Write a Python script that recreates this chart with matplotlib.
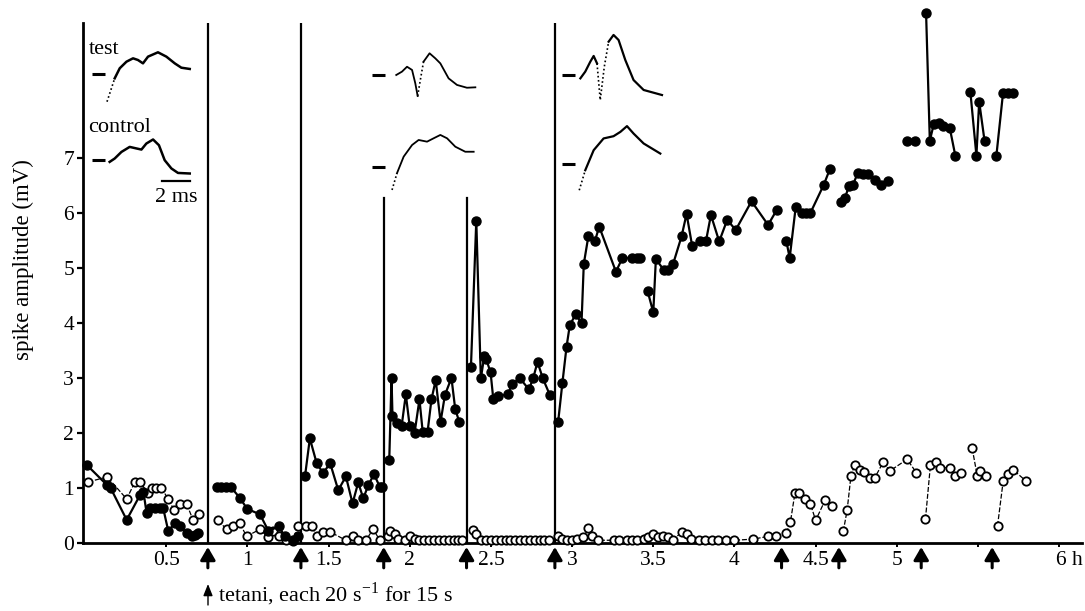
import numpy as np
import matplotlib.pyplot as plt
from matplotlib.transforms import ScaledTranslation

plt.rcParams['font.family'] = ['Liberation Serif', 'DejaVu Serif']
plt.rcParams['mathtext.fontset'] = 'custom'
plt.rcParams['mathtext.rm'] = 'Liberation Serif'

nan = np.nan

# tiempo (h) y amplitud (mV) de la espiga; nan separa los tramos
test_t = [0.014, 0.137, 0.158, 0.257, 0.339, 0.36, 0.38, 0.40, 0.43, 0.462, 0.482, 0.513, 0.554, 0.585, 0.626, 0.657, 0.677, 0.698, nan,
          0.815, 0.84, 0.87, 0.90, 0.954, 0.999, 1.078, 1.13, 1.195, 1.23, 1.28, 1.31, nan,
          1.355, 1.385, 1.427, 1.467, 1.51, 1.56, 1.607, 1.648, 1.683, 1.714, 1.745, 1.78, 1.816, 1.83, nan,
          1.874, 1.888, 1.894, 1.92, 1.95, 1.976, 2.0, 2.03, 2.06, 2.08, 2.11, 2.134, 2.16, 2.19, 2.217, 2.257, 2.28, 2.305, nan,
          2.377, 2.41, 2.438, 2.459, 2.47, 2.498, 2.515, 2.545, 2.607, 2.627, 2.68, 2.734, 2.76, 2.787, 2.82, 2.863, nan,
          2.914, 2.94, 2.966, 2.986, 3.023, 3.058, 3.072, 3.1, 3.14, 3.167, 3.27, 3.31, 3.366, 3.397, 3.42, nan,
          3.465, 3.5, 3.516, 3.565, 3.59, 3.622, 3.674, 3.705, 3.74, 3.787, 3.824, 3.855, 3.906, 3.955, 4.008, 4.105, 4.207, 4.26, nan,
          4.32, 4.34, 4.377, 4.413, 4.44, 4.468, 4.55, 4.587, nan,
          4.653, 4.68, 4.706, 4.73, 4.76, 4.79, 4.82, 4.865, 4.905, 4.946, nan,
          5.06, 5.11, nan,
          5.18, 5.203, 5.228, 5.26, 5.285, 5.326, 5.36, nan,
          5.453, 5.49, 5.507, 5.54, nan,
          5.613, 5.654, 5.685, 5.717]
test_v = [1.41, 1.05, 1.0, 0.42, 0.87, 0.93, 0.54, 0.63, 0.63, 0.63, 0.63, 0.22, 0.36, 0.30, 0.18, 0.12, 0.15, 0.18, nan,
          1.01, 1.01, 1.01, 1.01, 0.82, 0.62, 0.52, 0.22, 0.30, 0.12, 0.05, 0.12, nan,
          1.21, 1.90, 1.45, 1.27, 1.45, 0.96, 1.21, 0.72, 1.10, 0.81, 1.05, 1.25, 1.02, 1.02, nan,
          1.51, 3.0, 2.30, 2.18, 2.12, 2.70, 2.12, 2.0, 2.61, 2.02, 2.02, 2.61, 2.96, 2.2, 2.69, 3.0, 2.44, 2.2, nan,
          3.19, 5.86, 2.99, 3.39, 3.35, 3.10, 2.61, 2.67, 2.70, 2.89, 2.99, 2.79, 2.99, 3.29, 2.99, 2.69, nan,
          2.2, 2.9, 3.57, 3.96, 4.16, 3.99, 5.07, 5.57, 5.48, 5.75, 4.93, 5.18, 5.18, 5.18, 5.18, nan,
          4.58, 4.19, 5.16, 4.96, 4.96, 5.07, 5.57, 5.98, 5.39, 5.48, 5.48, 5.96, 5.48, 5.87, 5.69, 6.21, 5.78, 6.05, nan,
          5.48, 5.18, 6.10, 6.0, 6.0, 6.0, 6.51, 6.79, nan,
          6.19, 6.27, 6.49, 6.51, 6.73, 6.71, 6.71, 6.59, 6.51, 6.57, nan,
          7.31, 7.31, nan,
          9.63, 7.31, 7.62, 7.63, 7.58, 7.54, 7.04, nan,
          8.19, 7.04, 8.02, 7.31, nan,
          7.04, 8.18, 8.18, 8.18]

control_t = [0.02, 0.137, 0.257, 0.308, 0.339, 0.39, 0.41, 0.44, 0.47, 0.513, 0.548, 0.585, 0.626, 0.667, 0.704, nan,
             0.82, 0.872, 0.913, 0.954, 0.995, 1.078, 1.13, 1.16, 1.195, 1.24, 1.28, 1.31, nan,
             1.36, 1.40, 1.427, 1.467, 1.51, 1.607, 1.648, 1.683, 1.73, 1.775, 1.816, nan,
             1.865, 1.878, 1.91, 1.93, 1.97, 2.0, 2.03, 2.06, 2.09, 2.12, 2.15, 2.18, 2.21, 2.24, 2.27, 2.30, 2.32, nan,
             2.39, 2.41, 2.44, 2.47, 2.50, 2.53, 2.56, 2.59, 2.62, 2.65, 2.68, 2.71, 2.74, 2.77, 2.80, 2.83, 2.86, nan,
             2.914, 2.94, 2.97, 3.0, 3.03, 3.07, 3.10, 3.125, 3.16, 3.26, 3.29, 3.34, 3.37, 3.40, 3.44, 3.47, 3.5, 3.53,
             3.56, 3.59, 3.62, 3.675, 3.705, 3.73, 3.78, 3.82, 3.86, 3.90, 3.95, 4.0, 4.115, 4.207, 4.255, nan,
             4.32, 4.345, 4.372, 4.40, 4.437, 4.468, 4.5, 4.56, 4.6, nan,
             4.67, 4.694, 4.717, 4.74, 4.77, 4.8, 4.834, 4.865, 4.916, 4.957, 5.063, 5.12, nan,
             5.176, 5.207, 5.24, 5.265, 5.33, 5.36, 5.397, nan,
             5.464, 5.495, 5.51, 5.546, nan,
             5.62, 5.655, 5.685, 5.716, 5.794]
control_v = [1.11, 1.2, 0.8, 1.11, 1.11, 0.9, 1.0, 1.0, 1.0, 0.8, 0.6, 0.71, 0.71, 0.41, 0.52, nan,
             0.41, 0.25, 0.31, 0.36, 0.12, 0.25, 0.10, 0.22, 0.12, 0.06, 0.04, 0.30, nan,
             0.30, 0.30, 0.12, 0.2, 0.2, 0.05, 0.12, 0.05, 0.05, 0.25, 0.05, nan,
             0.12, 0.21, 0.17, 0.07, 0.05, 0.12, 0.07, 0.05, 0.05, 0.05, 0.05, 0.05, 0.05, 0.05, 0.05, 0.05, 0.05, nan,
             0.24, 0.17, 0.05, 0.05, 0.05, 0.05, 0.05, 0.05, 0.05, 0.05, 0.05, 0.05, 0.05, 0.05, 0.05, 0.05, 0.05, nan,
             0.12, 0.07, 0.05, 0.05, 0.07, 0.1, 0.27, 0.12, 0.05, 0.05, 0.05, 0.05, 0.05, 0.05, 0.07, 0.1, 0.16, 0.1,
             0.12, 0.1, 0.05, 0.2, 0.16, 0.08, 0.05, 0.05, 0.05, 0.05, 0.05, 0.05, 0.07, 0.12, 0.12, nan,
             0.18, 0.39, 0.9, 0.9, 0.8, 0.71, 0.41, 0.79, 0.68, nan,
             0.21, 0.6, 1.21, 1.42, 1.33, 1.29, 1.19, 1.19, 1.47, 1.31, 1.52, 1.28, nan,
             0.43, 1.42, 1.47, 1.37, 1.37, 1.21, 1.27, nan,
             1.72, 1.22, 1.31, 1.22, nan,
             0.31, 1.13, 1.25, 1.33, 1.13]

# tetanos (h)
tetani = [0.757, 1.33, 1.84, 2.35, 2.894, 4.29, 4.643, 5.15, 5.587]
tetani_lineas = [0.757, 1.33, 1.84, 2.35, 2.894]
altura_lineas = [9.45, 9.45, 6.27, 6.27, 9.45]

xticks = [0.5, 1, 1.5, 2, 2.5, 3, 3.5, 4, 4.5, 5, 5.5, 6]
xlabels = ['0.5', '1', '1.5', '2', '2.5', '3', '3.5', '4', '4.5', '5', '', '6 h']
yticks = [0, 1, 2, 3, 4, 5, 6, 7]

# registros de las espigas (ms, unidades arbitrarias)
test1_ms = [0, 0.55, 0.91, 1.39, 1.86, 2.21, 2.57, 2.93, 3.64, 4.24, 4.84, 5.31, 5.91]
test1_amp = [-1.98, -0.31, 0.41, 0.88, 1.12, 1.0, 0.76, 1.24, 1.55, 1.24, 0.76, 0.45, 0.36]
control1_ms = [0.19, 0.55, 1.03, 1.62, 2.1, 2.46, 2.81, 3.29, 3.71, 4.12, 4.6, 5.07, 5.91]
control1_amp = [-0.17, 0.07, 0.54, 0.9, 0.79, 0.71, 1.14, 1.43, 1.02, -0.05, -0.64, -0.96, -1.0]
test2_ms = [0.66, 1.07, 1.43, 1.79, 2.02, 2.19, 2.38, 2.61, 3.04, 3.45, 3.81, 4.4, 5.0, 5.71, 6.31]
test2_amp = [0, 0.24, 0.59, 0.36, -0.59, -1.5, -0.36, 0.95, 1.55, 1.19, 0.83, -0.24, -0.71, -0.91, -0.88]
control2_ms = [0.36, 0.71, 1.19, 1.79, 2.26, 2.86, 3.33, 3.81, 4.29, 4.88, 5.59, 6.19]
control2_amp = [-1.64, -0.45, 0.74, 1.57, 1.93, 1.81, 2.05, 2.29, 2.05, 1.45, 1.09, 1.09]
test3_ms = [0.24, 0.59, 0.95, 1.19, 1.43, 1.66, 1.95, 2.26, 2.61, 2.97, 3.45, 4.04, 4.76, 6.07]
test3_amp = [-0.24, 0.24, 0.95, 1.36, 0.83, -1.79, 0.59, 2.38, 2.86, 2.5, 1.07, -0.36, -1.07, -1.43]
control3_ms = [0.16, 0.59, 1.19, 1.9, 2.61, 3.1, 3.57, 4.04, 4.76, 5.95]
control3_amp = [-1.91, -0.48, 0.95, 1.79, 1.95, 2.26, 2.67, 2.14, 1.43, 0.71]

# figura
fig = plt.figure(figsize=(10.85, 6.11), dpi=100)
ax = fig.add_axes([0.0765, 0.1113, 0.9207, 0.8511])

for t, h in zip(tetani_lineas, altura_lineas):
    ax.plot([t, t], [0, h], color='black', lw=1.6, zorder=2)

ax.plot(control_t, control_v, color='black', lw=0.9, dashes=(4, 1.5), marker='o', ms=6,
        mfc='white', mec='black', mew=1.3, zorder=3, clip_on=False)
ax.plot(test_t, test_v, color='black', lw=1.6, marker='o', ms=6.5, mfc='black', mec='black',
        zorder=4, clip_on=False)

ax.set_xlim(-0.012, 6.14)
ax.set_ylim(0, 9.45)
ax.set_xticks(xticks)
ax.set_xticklabels(xlabels)
ax.set_yticks(yticks)
ax.tick_params(axis='x', direction='out', length=3, width=1.4, labelsize=15.5, pad=3)
ax.tick_params(axis='y', direction='out', length=4.5, width=1.6, labelsize=15.5, pad=2)
for s in ['top', 'right']:
    ax.spines[s].set_visible(False)
for s in ['left', 'bottom']:
    ax.spines[s].set_linewidth(2)
ax.set_ylabel('spike amplitude (mV)', fontsize=16.5)
ax.yaxis.set_label_coords(-0.049, 0.546)

# mover "6 h" para que el 6 quede sobre su marca
lab6 = ax.get_xticklabels()[-1]
lab6.set_transform(lab6.get_transform() + ScaledTranslation(7 / 72, 0, fig.dpi_scale_trans))

# flechas de tetanos
trans = ax.get_xaxis_transform() + ScaledTranslation(0, -0.04, fig.dpi_scale_trans)
for t in tetani:
    ax.annotate('', xy=(t, 0), xycoords=trans, xytext=(0, -15), textcoords='offset points',
                arrowprops=dict(arrowstyle='-|>,head_length=0.55,head_width=0.32', lw=2.2,
                                color='black', mutation_scale=14, shrinkA=0, shrinkB=0),
                annotation_clip=False)

# capa en pixeles para los registros
ov = fig.add_axes([0, 0, 1, 1])
ov.set_xlim(0, 1085)
ov.set_ylim(611, 0)
ov.axis('off')

esc = 14  # px por ms


def registro(ms, amp, x0, y0, punteado=None, lw=1.6):
    x = np.array([x0 + esc * m for m in ms])
    y = np.array([y0 - esc * a for a in amp])
    ov.plot([x0 - 15, x0 - 2], [y0, y0], color='black', lw=2.2, solid_capstyle='butt')
    if punteado is None:
        ov.plot(x, y, color='black', lw=lw)
    else:
        a, b = punteado
        ov.plot(x[:a + 1], y[:a + 1], color='black', lw=lw)
        ov.plot(x[a:b + 1], y[a:b + 1], color='black', lw=1.2, dashes=(1, 1.5))
        ov.plot(x[b:], y[b:], color='black', lw=lw)


registro(test1_ms, test1_amp, 107, 74, punteado=(0, 1), lw=1.8)
registro(control1_ms, control1_amp, 107, 159.5, lw=1.8)
registro(test2_ms, test2_amp, 387, 75, punteado=(5, 7), lw=1.3)
registro(control2_ms, control2_amp, 387, 167, punteado=(0, 1), lw=1.3)
registro(test3_ms, test3_amp, 577, 75, punteado=(4, 7), lw=1.6)
registro(control3_ms, control3_amp, 577, 163.5, punteado=(0, 1), lw=1.6)

ov.text(89, 50, 'test', fontsize=16, va='center', ha='left')
ov.text(88, 128, 'control', fontsize=16, va='center', ha='left')
ov.plot([162, 190], [181, 181], color='black', lw=1.6)
ov.text(176, 197, '2 ms', fontsize=16, va='center', ha='center')

# leyenda de tetanos
ov.annotate('', xy=(208, 584), xytext=(208, 605),
            arrowprops=dict(arrowstyle='-|>,head_length=0.5,head_width=0.2', lw=1,
                            color='black', mutation_scale=14, shrinkA=0, shrinkB=0))
ov.text(218, 594, r'tetani, each 20 s$^{\mathregular{-1}}$ for 15 s', fontsize=16, va='center', ha='left')

fig.savefig('out.png', dpi=100)
